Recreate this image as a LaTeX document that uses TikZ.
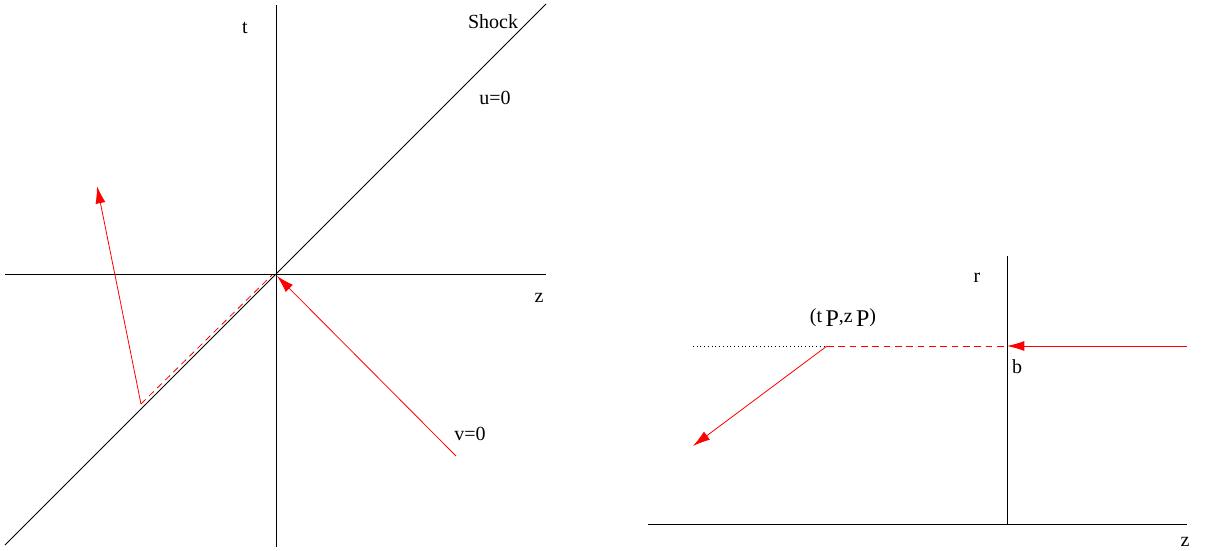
\documentclass[tikz,border=0pt]{standalone}
\usepackage{fontspec}
\setmainfont{Liberation Serif}
\usepackage{xcolor}
\usetikzlibrary{positioning, arrows.meta}
\definecolor{rayred}{HTML}{FF0000}

\begin{document}
\begin{tikzpicture}[x=0.75pt, y=-0.75pt, line width=0.6pt,
    axis/.style={draw=black},
    ray/.style={draw=rayred, -{Latex[length=13pt,width=7.5pt]}},
    trail/.style={draw=rayred, dash pattern=on 5pt off 3.5pt},
    lbl/.style={inner sep=0pt, font=\fontsize{15}{17}\selectfont}]
  \useasboundingbox (0,0) rectangle (1205,550);

  % left picture: t-z plane
  \coordinate (tTop) at (276,5);
  \coordinate (tBot) at (276,547);
  \coordinate (zLeft) at (5,274);
  \coordinate (zRight) at (546,274);
  \coordinate (shockLow) at (5,545);
  \coordinate (shockHigh) at (546,4);
  \coordinate (origin) at (277,276);
  \coordinate (inStart) at (456,456);
  \coordinate (hit) at (141,404);
  \coordinate (hitEnd) at (272,275);
  \coordinate (outEnd) at (97,186);

  \draw[axis] (tBot) -- (tTop);
  \draw[axis] (zLeft) -- (zRight);
  \draw[axis] (shockLow) -- (shockHigh);
  \draw[ray] (inStart) -- (origin);
  \draw[trail] (hit) -- (hitEnd);
  \draw[ray] (hit) -- (outEnd);

  \node[lbl] (tLabel) at (245,28) {t};
  \node[lbl] (shockLabel) at (493,22) {Shock};
  \node[lbl] (uLabel) at (495,98) {u=0};
  \node[lbl] (zLabel) at (539,298) {z};
  \node[lbl] (vLabel) at (470,434) {v=0};

  % right picture: r-z plane
  \coordinate (zaxLeft) at (648,524);
  \coordinate (zaxRight) at (1187,524);
  \coordinate (rTop) at (1007,256);
  \coordinate (rBot) at (1007,524);
  \coordinate (farLeft) at (693,346);
  \coordinate (pointP) at (827,346);
  \coordinate (impact) at (1007,346);
  \coordinate (farRight) at (1187,346);
  \coordinate (kickEnd) at (693,446);

  \draw[axis] (zaxLeft) -- (zaxRight);
  \draw[axis] (rBot) -- (rTop);
  \draw[dash pattern=on 0.6pt off 2.2pt] (farLeft) -- (pointP);
  \draw[trail] (pointP) -- (impact);
  \draw[ray] (farRight) -- (impact);
  \draw[ray] (pointP) -- (kickEnd);

  \node[lbl] (rLabel) at (977,278) {r};
  \node[lbl] (bLabel) at (1017,367) {b};
  \node[lbl] (z2Label) at (1185,542) {z};
  \node[lbl] (pLabel) at (843,318) {(t\,\raisebox{-3pt}{\fontsize{18}{20}\selectfont P},z\,\raisebox{-3pt}{\fontsize{18}{20}\selectfont P})};
\end{tikzpicture}
\end{document}
